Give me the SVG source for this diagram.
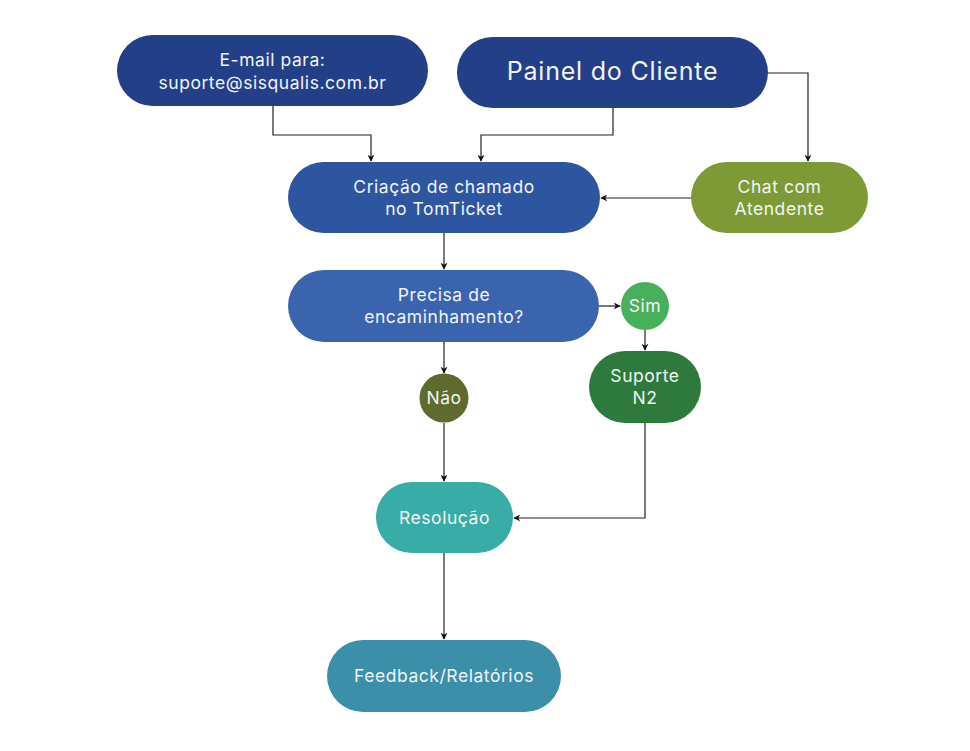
<svg xmlns="http://www.w3.org/2000/svg" width="970" height="751" viewBox="0 0 970 751">
<defs>
<style>
.t{font-family:Inter,"Open Sans","Liberation Sans",sans-serif;font-size:17.5px;letter-spacing:0.55px;fill:#f2f4f8;text-anchor:middle}
.big{font-size:25px;letter-spacing:0.8px}
.c{fill:none;stroke:#222;stroke-width:1.2;marker-end:url(#ah)}
</style>
<marker id="ah" viewBox="0 0 10 10" refX="9" refY="5" markerWidth="7" markerHeight="7" markerUnits="userSpaceOnUse" orient="auto">
<path d="M0,0 L10,5 L0,10 L3,5 Z" fill="#111"/>
</marker>
</defs>
<rect width="970" height="751" fill="#fff"/>
<g id="connectors">
<path class="c" d="M273,106 V135 H371 V161"/>
<path class="c" d="M613,108 V135 H481 V161"/>
<path class="c" d="M768,73 H808 V161"/>
<path class="c" d="M691,198 H601"/>
<path class="c" d="M444,233 V269"/>
<path class="c" d="M599,306 H620"/>
<path class="c" d="M645,330 V350"/>
<path class="c" d="M444,342 V373"/>
<path class="c" d="M444,423 V481"/>
<path class="c" d="M645,423 V518 H514"/>
<path class="c" d="M444,553 V639"/>
</g>
<g id="email">
<rect x="117" y="35" width="311" height="71" rx="35.5" fill="#233f87"/>
<text class="t" x="272.5" y="66">E-mail para:</text>
<text class="t" x="272.5" y="89">suporte@sisqualis.com.br</text>
</g>
<g id="painel">
<rect x="457" y="37" width="311" height="71" rx="35.5" fill="#233f87"/>
<text class="t big" x="612.5" y="80">Painel do Cliente</text>
</g>
<g id="criacao">
<rect x="288" y="162" width="312" height="71" rx="35.5" fill="#2e559f"/>
<text class="t" x="444" y="193">Criação de chamado</text>
<text class="t" x="444" y="215">no TomTicket</text>
</g>
<g id="chat">
<rect x="691" y="162" width="177" height="71" rx="35.5" fill="#7e9a36"/>
<text class="t" x="779.5" y="193">Chat com</text>
<text class="t" x="779.5" y="215">Atendente</text>
</g>
<g id="precisa">
<rect x="288" y="270" width="311" height="72" rx="36" fill="#3a64ae"/>
<text class="t" x="444" y="301">Precisa de</text>
<text class="t" x="444" y="323">encaminhamento?</text>
</g>
<g id="sim">
<circle cx="645" cy="306" r="24" fill="#47b05a"/>
<text class="t" x="645" y="312">Sim</text>
</g>
<g id="suporte">
<rect x="589" y="351" width="112" height="72" rx="36" fill="#2d7a3c"/>
<text class="t" x="645" y="382">Suporte</text>
<text class="t" x="645" y="404">N2</text>
</g>
<g id="nao">
<circle cx="444" cy="398" r="24.5" fill="#5f6b2e"/>
<text class="t" x="444" y="404">Não</text>
</g>
<g id="resolucao">
<rect x="376" y="482" width="137" height="71" rx="35.5" fill="#38aca6"/>
<text class="t" x="444.5" y="524">Resolução</text>
</g>
<g id="feedback">
<rect x="327" y="640" width="234" height="72" rx="36" fill="#3b8fa9"/>
<text class="t" x="444" y="682">Feedback/Relatórios</text>
</g>
</svg>
